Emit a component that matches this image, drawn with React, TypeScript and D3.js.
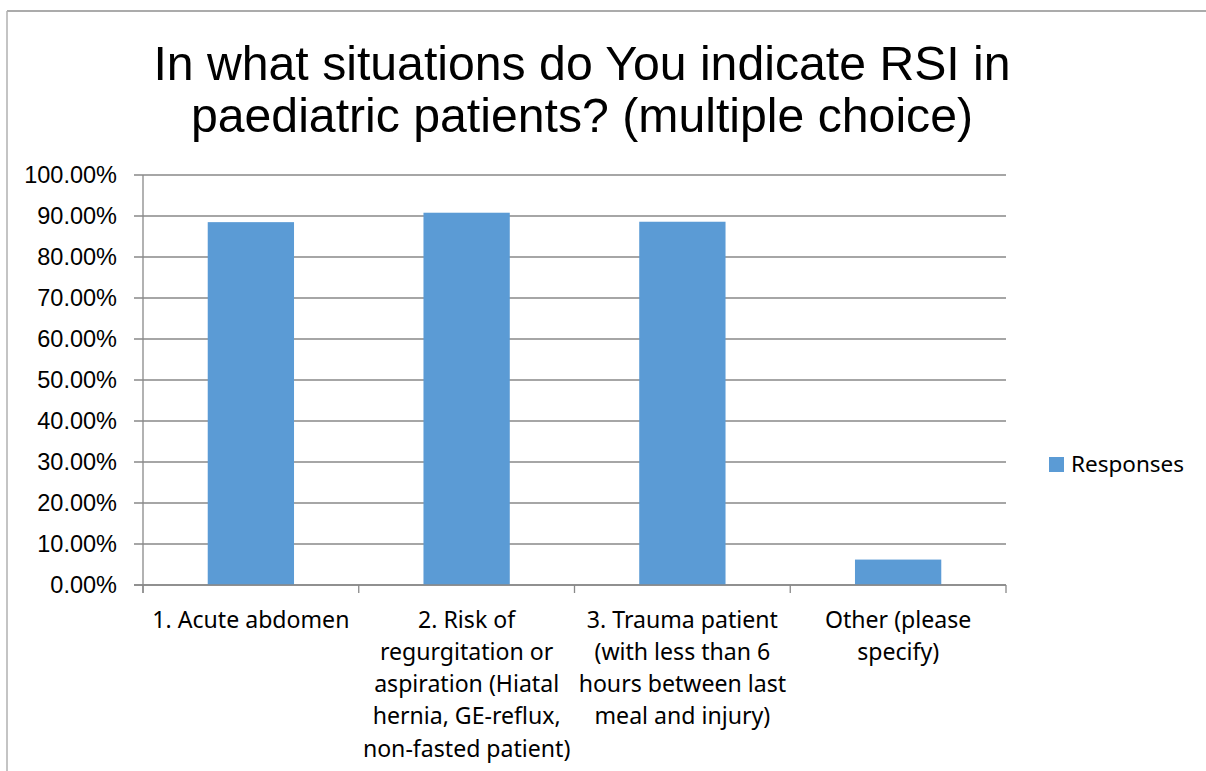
import React from "react";
import * as d3 from "d3";

const titleLines = [
  "In what situations do You indicate RSI in",
  "paediatric patients? (multiple choice)",
];
const categories = [
  "1. Acute abdomen",
  "2. Risk of regurgitation or aspiration (Hiatal hernia, GE-reflux, non-fasted patient)",
  "3. Trauma patient (with less than 6 hours between last meal and injury)",
  "Other (please specify)",
];
const categoryLines = [
  ["1. Acute abdomen"],
  ["2. Risk of", "regurgitation or", "aspiration (Hiatal", "hernia, GE-reflux,", "non-fasted patient)"],
  ["3. Trauma patient", "(with less than 6", "hours between last", "meal and injury)"],
  ["Other (please", "specify)"],
];
const responses = [0.885, 0.908, 0.886, 0.062];
const yTicks = [0, 0.1, 0.2, 0.3, 0.4, 0.5, 0.6, 0.7, 0.8, 0.9, 1.0];
const seriesName = "Responses";

const W = 1206;
const H = 771;
const plot = { left: 143, right: 1006, top: 175, bottom: 585 };
const barColor = "#5B9BD5";
const gridColor = "#898989";
const catFont = "'Noto Sans', Lato, sans-serif";
const numFont = "'Liberation Sans', Arial, sans-serif";

export default function App() {
  const x = d3
    .scaleBand<string>()
    .domain(categories)
    .range([plot.left, plot.right])
    .paddingInner(0.6)
    .paddingOuter(0.3);
  const xOuter = d3.scaleBand<string>().domain(categories).range([plot.left, plot.right]);
  const y = d3.scaleLinear().domain([0, 1]).range([plot.bottom, plot.top]);
  const fmt = (v: number) => (v * 100).toFixed(2) + "%";
  const boundaries = [...categories.map((c) => xOuter(c) as number), plot.right];

  return (
    <svg
      width={W}
      height={H}
      style={{ position: "absolute", left: 0, top: 0, background: "#fff" }}
    >
      <rect x={0} y={0} width={W} height={H} fill="#fff" />
      {/* chart border */}
      <line x1={7} y1={11} x2={W} y2={11} stroke="#8f8f8f" strokeWidth={1.5} />
      <line x1={7} y1={11} x2={7} y2={H} stroke="#b0b0b0" strokeWidth={1.5} />

      {/* title */}
      {titleLines.map((t, i) => (
        <text
          key={i}
          x={582}
          y={80 + i * 51.5}
          textAnchor="middle"
          fontFamily={numFont}
          fontSize={48.2}
          fill="#000"
        >
          {t}
        </text>
      ))}

      {/* gridlines */}
      {yTicks.map((t) => (
        <line
          key={t}
          x1={134}
          x2={plot.right}
          y1={y(t)}
          y2={y(t)}
          stroke={gridColor}
          strokeWidth={1.3}
        />
      ))}
      {yTicks.map((t) => (
        <text
          key={"l" + t}
          x={117}
          y={y(t)}
          dy="0.35em"
          textAnchor="end"
          fontFamily={numFont}
          fontSize={23.5}
          fill="#000"
        >
          {fmt(t)}
        </text>
      ))}

      {/* bars */}
      {categories.map((c, i) => (
        <rect
          key={c}
          x={x(c)}
          y={y(responses[i])}
          width={x.bandwidth()}
          height={y(0) - y(responses[i])}
          fill={barColor}
        />
      ))}

      {/* axes */}
      <line x1={plot.left} x2={plot.left} y1={plot.top} y2={plot.bottom + 8} stroke={gridColor} strokeWidth={1.3} />
      <line x1={134} x2={plot.right} y1={plot.bottom} y2={plot.bottom} stroke={gridColor} strokeWidth={1.3} />
      {boundaries.map((b, i) => (
        <line key={"b" + i} x1={b} x2={b} y1={plot.bottom} y2={plot.bottom + 8} stroke={gridColor} strokeWidth={1.3} />
      ))}

      {/* category labels */}
      {categories.map((c, i) => (
        <text
          key={"c" + i}
          textAnchor="middle"
          fontFamily={catFont}
          fontSize={23.1}
          fill="#000"
        >
          {categoryLines[i].map((line, j) => (
            <tspan key={j} x={(xOuter(c) as number) + xOuter.bandwidth() / 2} y={627.5 + j * 32.3}>
              {line}
            </tspan>
          ))}
        </text>
      ))}

      {/* legend */}
      <rect x={1049} y={457} width={15} height={15} fill={barColor} />
      <text x={1071} y={471.5} fontFamily={catFont} fontSize={22.5} fill="#000">
        {seriesName}
      </text>
    </svg>
  );
}
